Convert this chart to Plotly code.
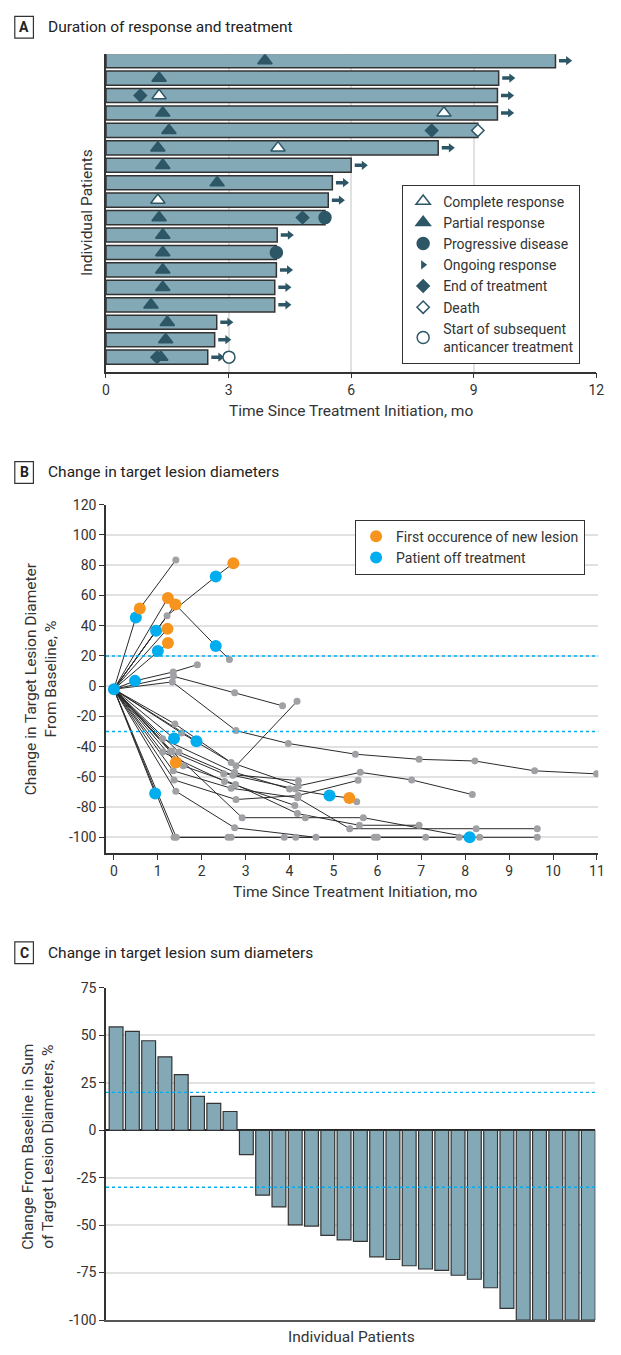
import plotly.graph_objects as go

W, H = 621, 1355
FONT = "Roboto"
TXT = "#333333"
BAR_FILL = "#84A9B6"
BAR_LINE = "#333333"
DARK = "#2D5766"
ORANGE = "#F7941D"
BLUE = "#00AEEF"
GRAY = "#A0A1A4"
GRID = "#E1E1E1"

# ---------------- Panel A data ----------------
a_patient = list(range(1, 19))
a_duration_mo = [11.0, 9.61, 9.58, 9.58, 9.10, 8.13, 6.0, 5.54, 5.44, 5.36,
                 4.19, 4.17, 4.17, 4.13, 4.13, 2.71, 2.66, 2.49]
a_pr_patient = [1, 2, 4, 5, 6, 7, 8, 10, 11, 12, 13, 14, 15, 16, 17, 18]
a_pr_mo = [3.89, 1.30, 1.39, 1.54, 1.27, 1.39, 2.72, 1.30, 1.39, 1.39, 1.39,
           1.39, 1.10, 1.50, 1.46, 1.34]
a_cr_patient = [3, 4, 6, 9]
a_cr_mo = [1.30, 8.27, 4.21, 1.27]
a_eot_patient = [3, 5, 10, 18]
a_eot_mo = [0.84, 7.97, 4.81, 1.25]
a_death_patient = [5]
a_death_mo = [9.10]
a_pd_patient = [10, 12]
a_pd_mo = [5.36, 4.17]
a_ongoing_patient = [1, 2, 3, 4, 6, 7, 8, 9, 11, 13, 14, 15, 16, 17, 18]
a_subseq_patient = [18]
a_subseq_mo = [3.01]
a_xticks = [0, 3, 6, 9, 12]

# ---------------- Panel B data ----------------
b_months = [
    [0, 0.50, 0.59, 1.41],
    [0, 1.23],
    [0, 1.21, 2.32, 2.72],
    [0, 1.40, 2.32, 2.63],
    [0, 0.96],
    [0, 1.22],
    [0, 1.00, 1.23],
    [0, 0.48, 1.35, 1.90],
    [0, 1.36, 2.75, 3.84],
    [0, 1.33, 2.78, 3.97, 5.50, 6.95, 8.22, 9.58, 10.99],
    [0, 1.39, 2.78, 4.17],
    [0, 1.37],
    [0, 1.88],
    [0, 1.54, 2.67, 4.20, 5.61, 6.78, 8.16],
    [0, 1.11, 2.75, 4.00, 4.91, 5.36, 5.53],
    [0, 1.29, 2.50, 4.20],
    [0, 1.48, 2.71, 4.14],
    [0, 1.11, 2.52, 4.12],
    [0, 1.41],
    [0, 1.58, 2.77, 4.18, 5.59, 6.95],
    [0, 1.35, 2.67, 4.18, 5.37, 8.25, 9.64],
    [0, 1.37, 2.78, 4.20, 5.56],
    [0, 1.41, 2.75, 4.60, 5.93, 7.10],
    [0, 1.37, 2.60, 3.88, 6.00, 8.33, 9.64],
    [0, 1.42, 2.67, 4.14, 7.86],
    [0, 0.94],
    [0, 1.32, 2.92, 4.36, 5.68, 8.10],
]
b_change = [
    [-2, 45.5, 51.4, 83.5],
    [-2, 58.4],
    [-2, 46.6, 72.5, 81.3],
    [-2, 54.0, 26.6, 17.6],
    [-2, 36.6],
    [-2, 37.9],
    [-2, 23.3, 28.5],
    [-2, 3.5, 9.4, 14.2],
    [-2, 6.5, -4.4, -13.0],
    [-2, 2.8, -29.4, -37.9, -45.0, -48.4, -49.5, -56.0, -58.0],
    [-2, -25.0, -52.7, -10.0],
    [-2, -34.6],
    [-2, -36.4],
    [-2, -31.0, -50.5, -66.0, -57.0, -62.0, -71.7],
    [-2, -34.8, -57.0, -68.0, -72.3, -74.0, -76.5],
    [-2, -43.0, -58.0, -62.5],
    [-2, -43.6, -59.0, -68.0],
    [-2, -43.6, -63.0, -78.9],
    [-2, -50.5],
    [-2, -52.7, -65.0, -84.3, -92.0, -92.0],
    [-2, -56.0, -67.5, -73.9, -94.3, -94.3, -94.3],
    [-2, -62.0, -75.0, -72.3, -62.3],
    [-2, -69.5, -93.7, -100, -100, -100],
    [-2, -100, -100, -100, -100, -100, -100],
    [-2, -100, -100, -100, -100],
    [-2, -71.0],
    [-2, -43.0, -87.0, -87.0, -87.0, -100],
]
b_new_lesion_mo = [0.59, 1.23, 2.72, 1.40, 1.22, 1.23, 5.36, 1.41]
b_new_lesion_chg = [51.4, 58.4, 81.3, 54.0, 37.9, 28.5, -74.0, -50.5]
b_off_tx_mo = [0, 0.50, 2.32, 2.32, 0.96, 1.00, 0.48, 1.37, 1.88, 4.91, 8.10, 0.94]
b_off_tx_chg = [-2, 45.5, 72.5, 26.6, 36.6, 23.3, 3.5, -34.6, -36.4, -72.3, -100, -71.0]
b_xticks = list(range(0, 12))
b_yticks = [-100, -80, -60, -40, -20, 0, 20, 40, 60, 80, 100, 120]
b_thresholds = [20, -30]

# ---------------- Panel C data ----------------
c_change = [54.5, 52.1, 47.2, 38.7, 29.3, 17.9, 14.2, 9.9, -12.8, -34.2, -40.4,
            -49.8, -50.5, -55.4, -57.8, -58.5, -66.7, -68.1, -71.4, -73.1, -73.8,
            -76.4, -78.5, -83.0, -93.9, -100, -100, -100, -100, -100]
c_patient = list(range(len(c_change)))
c_yticks = [-100, -75, -50, -25, 0, 25, 50, 75]
c_thresholds = [20, -30]


def px(x):
    return x / W


def py(y):
    return 1 - y / H


fig = go.Figure()

# ----- Panel A -----
fig.add_trace(go.Bar(
    x=a_duration_mo, y=a_patient, orientation="h", width=0.81,
    marker=dict(color=BAR_FILL, line=dict(color=BAR_LINE, width=1.5)),
    xaxis="x", yaxis="y", showlegend=False, hoverinfo="skip"))

mk_line = dict(color=DARK, width=1.5)
fig.add_trace(go.Scatter(
    x=a_eot_mo, y=a_eot_patient, mode="markers", name="End of treatment",
    marker=dict(symbol="diamond", size=9.5, color=DARK, line=mk_line),
    legendrank=5, xaxis="x", yaxis="y"))
fig.add_trace(go.Scatter(
    x=a_pr_mo, y=a_pr_patient, mode="markers", name="Partial response",
    marker=dict(symbol="triangle-up", size=12.5, color=DARK, line=mk_line),
    legendrank=2, xaxis="x", yaxis="y"))
fig.add_trace(go.Scatter(
    x=a_cr_mo, y=a_cr_patient, mode="markers", name="Complete response",
    marker=dict(symbol="triangle-up", size=12.5, color="white", line=mk_line),
    legendrank=1, xaxis="x", yaxis="y"))
fig.add_trace(go.Scatter(
    x=a_pd_mo, y=a_pd_patient, mode="markers", name="Progressive disease",
    marker=dict(symbol="circle", size=12, color=DARK, line=mk_line),
    legendrank=3, xaxis="x", yaxis="y"))
fig.add_trace(go.Scatter(
    x=a_death_mo, y=a_death_patient, mode="markers", name="Death",
    marker=dict(symbol="diamond", size=9.5, color="white", line=mk_line),
    legendrank=6, xaxis="x", yaxis="y"))
arrow_end = [a_duration_mo[p - 1] for p in a_ongoing_patient]
fig.add_trace(go.Scatter(
    x=[d + 0.19 for d in arrow_end], y=a_ongoing_patient, mode="markers",
    marker=dict(symbol="line-ew", size=6, line=dict(color=DARK, width=3.5)),
    showlegend=False, xaxis="x", yaxis="y", hoverinfo="skip"))
fig.add_trace(go.Scatter(
    x=[d + 0.31 for d in arrow_end], y=a_ongoing_patient, mode="markers",
    name="Ongoing response",
    marker=dict(symbol="triangle-right", size=8, color=DARK, line=dict(width=0)),
    legendrank=4, xaxis="x", yaxis="y"))
fig.add_trace(go.Scatter(
    x=a_subseq_mo, y=a_subseq_patient, mode="markers",
    name="Start of subsequent<br>anticancer treatment",
    marker=dict(symbol="circle", size=12, color="white", line=mk_line),
    legendrank=7, xaxis="x", yaxis="y"))

# ----- Panel B -----
for mo, ch in zip(b_months, b_change):
    fig.add_trace(go.Scatter(
        x=mo, y=ch, mode="lines", line=dict(color="#2a2a2a", width=1),
        showlegend=False, xaxis="x2", yaxis="y2", hoverinfo="skip"))
gx = [m for mo in b_months for m in mo[1:]]
gy = [c for ch in b_change for c in ch[1:]]
fig.add_trace(go.Scatter(
    x=gx, y=gy, mode="markers", marker=dict(color=GRAY, size=7),
    showlegend=False, xaxis="x2", yaxis="y2", hoverinfo="skip"))
fig.add_trace(go.Scatter(
    x=b_off_tx_mo, y=b_off_tx_chg, mode="markers", name="Patient off treatment",
    marker=dict(color=BLUE, size=12), legend="legend2", legendrank=2,
    xaxis="x2", yaxis="y2"))
fig.add_trace(go.Scatter(
    x=b_new_lesion_mo, y=b_new_lesion_chg, mode="markers",
    name="First occurence of new lesion",
    marker=dict(color=ORANGE, size=12), legend="legend2", legendrank=1,
    xaxis="x2", yaxis="y2"))

# ----- Panel C -----
fig.add_trace(go.Bar(
    x=c_patient, y=c_change, width=0.85,
    marker=dict(color=BAR_FILL, line=dict(color=BAR_LINE, width=1.2)),
    xaxis="x3", yaxis="y3", showlegend=False, hoverinfo="skip"))

tickfont = dict(family=FONT, size=14, color=TXT)
axline = dict(showline=True, linecolor="#333333", linewidth=1.5)

fig.update_layout(
    width=W, height=H, margin=dict(l=0, r=0, t=0, b=0),
    paper_bgcolor="white", plot_bgcolor="white",
    font=dict(family=FONT, size=14, color=TXT),
    xaxis=dict(domain=[px(104), px(604)], range=[0, 12], tickvals=a_xticks,
               ticks="outside", ticklen=5, tickcolor="#333", tickwidth=1.2,
               showgrid=True, gridcolor=GRID, gridwidth=1.5, zeroline=False,
               tickfont=tickfont, anchor="y", **axline),
    yaxis=dict(domain=[py(368), py(46.7)], range=[18.833, 0.626],
               showticklabels=False, ticks="", showgrid=False, zeroline=False,
               anchor="x", **axline),
    xaxis2=dict(domain=[px(104), px(606)], range=[-0.18, 11.03],
                tickvals=b_xticks, ticks="outside", ticklen=5, tickcolor="#333",
                tickwidth=1.2, showgrid=False, zeroline=False,
                tickfont=tickfont, anchor="y2", **axline),
    yaxis2=dict(domain=[py(855), py(502.7)], range=[-110.3, 120],
                tickvals=b_yticks, ticktext=[str(v) for v in b_yticks],
                ticks="outside", ticklen=5, tickcolor="#333", tickwidth=1.2,
                showgrid=True, gridcolor=GRID, gridwidth=1.5, zeroline=False,
                tickfont=tickfont, anchor="x2", **axline),
    xaxis3=dict(domain=[px(104), px(603)], range=[-0.62, 29.43],
                showticklabels=False, ticks="", showgrid=False, zeroline=False,
                showline=True, linecolor="#555555", linewidth=2, anchor="y3"),
    yaxis3=dict(domain=[py(1327.7), py(991.7)], range=[-100, 75],
                tickvals=c_yticks, ticktext=[str(v) for v in c_yticks],
                ticks="outside", ticklen=5, tickcolor="#333", tickwidth=1.2,
                showgrid=True, gridcolor=GRID, gridwidth=1.5,
                zeroline=True, zerolinecolor="#222222", zerolinewidth=1.5,
                tickfont=tickfont, anchor="x3", **axline),
    legend=dict(x=px(406), y=py(178.7), xanchor="left", yanchor="top",
                bordercolor="#333333", borderwidth=1, bgcolor="white",
                font=dict(family=FONT, size=14, color=TXT), tracegroupgap=0),
    legend2=dict(x=px(358), y=py(517.7), xanchor="left", yanchor="top",
                 bordercolor="#333333", borderwidth=1, bgcolor="white",
                 font=dict(family=FONT, size=14, color=TXT)),
    showlegend=True,
)

shapes = []
for thr in b_thresholds:
    shapes.append(dict(type="line", xref="x2 domain", yref="y2", x0=0, x1=1,
                       y0=thr, y1=thr, line=dict(color=BLUE, width=1.4, dash="dot"),
                       layer="above"))
for thr in c_thresholds:
    shapes.append(dict(type="line", xref="x3 domain", yref="y3", x0=0, x1=1,
                       y0=thr, y1=thr, line=dict(color=BLUE, width=1.4, dash="dot"),
                       layer="above"))

annotations = []
headers = [("A", "Duration of response and treatment", 19.5),
           ("B", "Change in target lesion diameters", 470),
           ("C", "Change in target lesion sum diameters", 956)]
for letter, title, cy in headers:
    shapes.append(dict(type="rect", xref="paper", yref="paper",
                       x0=px(11), x1=px(30), y0=py(cy + 11), y1=py(cy - 11),
                       line=dict(color="#333333", width=1.2)))
    annotations.append(dict(text="<b>%s</b>" % letter, x=px(20.5), y=py(cy),
                            xref="paper", yref="paper", showarrow=False,
                            xanchor="center", yanchor="middle",
                            font=dict(family=FONT, size=14, color="#222")))
    annotations.append(dict(text=title, x=px(43), y=py(cy), xref="paper",
                            yref="paper", showarrow=False, xanchor="left",
                            yanchor="middle",
                            font=dict(family=FONT, size=15.5, color="#222")))

axis_titles = [
    ("Time Since Treatment Initiation, mo", 354, 408, 0),
    ("Individual Patients", 84, 207, -90),
    ("Time Since Treatment Initiation, mo", 358, 895, 0),
    ("Change in Target Lesion Diameter<br>From Baseline, %", 38, 679, -90),
    ("Individual Patients", 354, 1345, 0),
    ("Change From Baseline in Sum<br>of Target Lesion Diameters, %", 35, 1152, -90),
]
for text, x, y, ang in axis_titles:
    annotations.append(dict(text=text, x=px(x), y=py(y), xref="paper",
                            yref="paper", showarrow=False, xanchor="center",
                            yanchor="middle", textangle=ang,
                            font=dict(family=FONT, size=15.5, color=TXT)))

fig.update_layout(shapes=shapes, annotations=annotations)
fig.write_html(
    "out.html",
    config={"displayModeBar": False},
    post_script="document.body.style.margin='0';document.body.style.padding='0';",
)
